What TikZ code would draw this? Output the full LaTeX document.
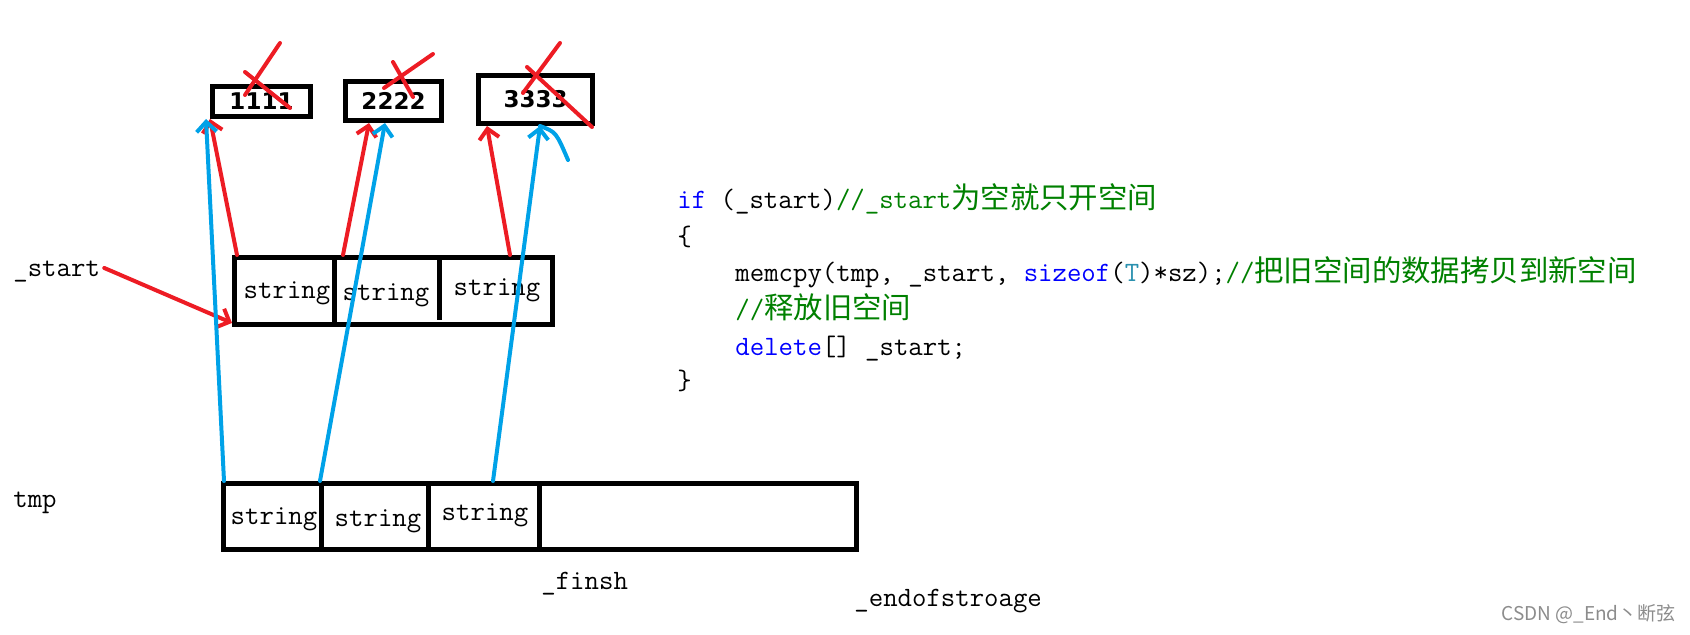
\documentclass[tikz,border=0pt]{standalone}
\usepackage{fontspec}
\newfontfamily\cjk[Scale=1.05]{Noto Sans CJK SC}
\newfontfamily\markfont{Noto Sans CJK SC}
\newfontfamily\handfont{DejaVu Sans}
\usepackage{xcolor}
\usetikzlibrary{arrows.meta}

\definecolor{penred}{RGB}{237,28,36}
\definecolor{penblue}{RGB}{0,162,232}
\definecolor{kwblue}{RGB}{0,0,255}
\definecolor{cmtgreen}{RGB}{0,128,0}
\definecolor{typeteal}{RGB}{43,145,175}

\newcommand\codefont{\ttfamily\fontsize{14}{16}\selectfont}
\newcommand\kw[1]{\textcolor{kwblue}{#1}}
\newcommand\cmt[1]{\textcolor{cmtgreen}{#1}}
\newcommand\ty[1]{\textcolor{typeteal}{#1}}

\tikzset{
  cellbox/.style={draw, rectangle, line width=2.5pt, inner sep=0pt},
  handbox/.style={cellbox, font=\handfont\bfseries\fontsize{11.5}{13}\selectfont},
  divider/.style={line width=2.5pt},
  strtext/.style={font=\codefont, inner sep=0pt},
  codeline/.style={anchor=base west, font=\codefont, inner sep=0pt},
  varlabel/.style={anchor=west, font=\codefont, inner sep=0pt},
  redstroke/.style={draw=penred, line width=2pt, line cap=round,
    -{Straight Barb[length=5pt,width=10pt]}},
  bluestroke/.style={draw=penblue, line width=2pt, line cap=round,
    -{Straight Barb[length=5pt,width=10pt]}},
  redmark/.style={draw=penred, line width=2pt, line cap=round},
}

\begin{document}
\begin{tikzpicture}[x=0.5pt,y=-0.5pt]
  \useasboundingbox (0,0) rectangle (1690,635);

  % old elements
  \node[handbox, minimum width=49pt, minimum height=15pt] (b1) at (261.5,101.5) {1111};
  \node[handbox, minimum width=48pt, minimum height=19.5pt] (b2) at (393.5,101) {2222};
  \node[handbox, minimum width=57pt, minimum height=24pt] (b3) at (535.5,99.5) {3333};

  % crosses
  \draw[redmark] (245,72) -- (290,108);
  \draw[redmark] (280,43) -- (245,95);
  \draw[redmark] (393,62) -- (413,97);
  \draw[redmark] (433,54) -- (384,88);
  \draw[redmark] (527,67) -- (592,127);
  \draw[redmark] (560,43) -- (523,93);

  % _start array
  \node[cellbox, minimum width=159pt, minimum height=33.5pt] (mid) at (393.5,291) {};
  \draw[divider] (334,257.5) -- (334,324.5);
  \draw[divider] (439,259) -- (439,320);
  \node[strtext] (m1) at (287,293) {string};
  \node[strtext] (m2) at (386,295) {string};
  \node[strtext] (m3) at (497,290) {string};

  % tmp array
  \node[cellbox, minimum width=316.5pt, minimum height=33pt] (tmparr) at (540,516.5) {};
  \draw[divider] (321,483.5) -- (321,549.5);
  \draw[divider] (428,486) -- (428,547);
  \draw[divider] (539,483.5) -- (539,549.5);
  \node[strtext] (t1) at (274,519) {string};
  \node[strtext] (t2) at (378,521) {string};
  \node[strtext] (t3) at (485,515) {string};

  % labels
  \node[varlabel] (startlbl) at (13,272) {\_start};
  \node[varlabel] (tmplbl) at (13,503) {tmp};
  \node[varlabel] (finlbl) at (541,584) {\_finsh};
  \node[varlabel] (endlbl) at (854,601) {\_endofstroage};

  % pointers
  \draw[redstroke] ([xshift=2pt,yshift=2pt]startlbl.east) -- ([yshift=2pt]mid.south west);
  \draw[redstroke] ([xshift=2.5pt]mid.north west) -- (b1.south west);
  \draw[redstroke] ([xshift=55.5pt]mid.north west) -- ([xshift=13pt]b2.south west);
  \draw[redstroke] ([xshift=139pt]mid.north west) -- ([xshift=5.5pt]b3.south west);
  \draw[bluestroke] ([xshift=1.5pt]tmparr.north west) -- ([xshift=-2pt]b1.south west);
  \draw[bluestroke] ([xshift=49.5pt]tmparr.north west) -- ([xshift=21pt]b2.south west);
  \draw[bluestroke] ([xshift=136pt]tmparr.north west) -- ([xshift=32pt]b3.south west);
  \coordinate (tip3) at ([xshift=32pt]b3.south west);
  \draw[draw=penblue, line width=2pt, line cap=round] (tip3) .. controls (556,132) .. (568,160);

  % code
  \node[codeline] (c1) at (677,209) {\kw{if} (\_start)\cmt{//\_start{\cjk 为空就只开空间}}};
  \node[codeline] (c2) at (677,246) {\{};
  \node[codeline] (c3) at (735,282) {memcpy(tmp, \_start, \kw{sizeof}(\ty{T})*sz);\cmt{//{\cjk 把旧空间的数据拷贝到新空间}}};
  \node[codeline] (c4) at (735,319) {\cmt{//{\cjk 释放旧空间}}};
  \node[codeline] (c5) at (735,356) {\kw{delete}[] \_start;};
  \node[codeline] (c6) at (677,390) {\}};

  \node[anchor=east, inner sep=0pt, text=black!45,
    font=\markfont\fontsize{9.5}{11}\selectfont] (mark) at (1676,614) {CSDN @\_End丶断弦};
\end{tikzpicture}
\end{document}
